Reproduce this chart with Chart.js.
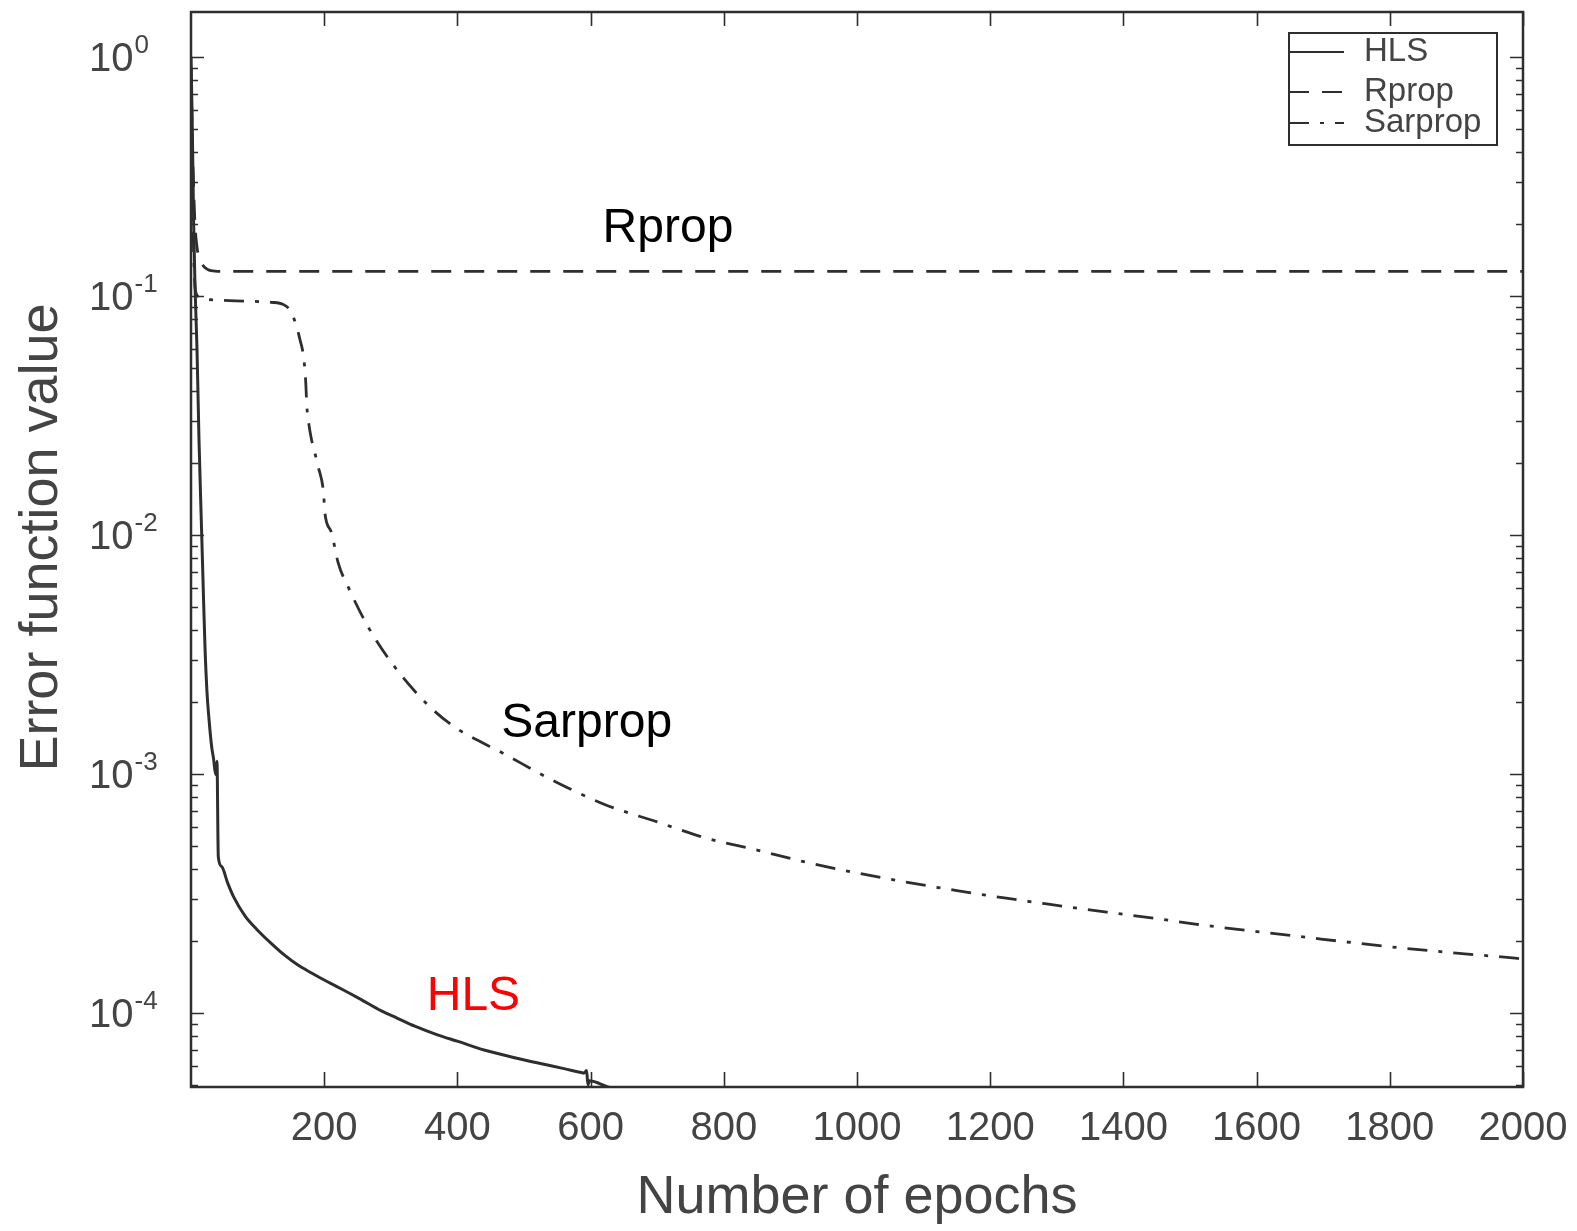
<!DOCTYPE html>
<html lang="en">
<head>
    <meta charset="UTF-8">
    <title>Error function value vs number of epochs</title>
    <script src="https://cdn.jsdelivr.net/npm/chart.js@4.4.1/dist/chart.umd.js"></script>
    <style>
        html, body { margin: 0; padding: 0; background: #fff; }
        #wrap { width: 1577px; height: 1231px; }
    </style>
</head>
<body>
    <div id="wrap"><canvas id="errChart" width="1577" height="1231"></canvas></div>

    <script>
        // --- data ---
        const hlsEpochs = [0, 2, 4, 6, 9, 12, 16, 19, 21, 24, 27, 31, 34, 36, 38, 39, 41, 46, 55, 64,
            81, 100, 120, 141, 160, 181, 205, 226, 255, 286, 310, 336, 370, 401, 440, 486, 530, 560,
            586, 590, 594, 596, 598, 626, 660];
        const hlsValues = [1.0, 0.5, 0.2, 0.11, 0.06, 0.025, 0.0102, 0.0052, 0.0034, 0.0022, 0.0017,
            0.0013, 0.00115, 0.00103, 0.00099, 0.00113, 0.00045, 0.00041, 0.00035, 0.000306,
            0.000255, 0.000222, 0.000196, 0.000174, 0.000159, 0.000147, 0.000135, 0.000126,
            0.000114, 0.000102, 9.5e-5, 8.8e-5, 8.1e-5, 7.6e-5, 7.0e-5, 6.5e-5, 6.1e-5, 5.85e-5,
            5.63e-5, 5.6e-5, 5.75e-5, 5.0e-5, 5.2e-5, 4.9e-5, 4.6e-5];

        const rpropEpochs = [0, 2, 4, 6, 9, 12, 16, 20, 25, 30, 36, 50, 100, 500, 1000, 1500, 2000];
        const rpropValues = [0.9, 0.45, 0.28, 0.2, 0.16, 0.145, 0.137, 0.132, 0.129, 0.1275, 0.1268,
            0.1265, 0.1265, 0.1265, 0.1265, 0.1265, 0.1265];

        const sarpropEpochs = [0, 2, 4, 6, 8, 12, 20, 40, 80, 120, 139, 150, 159, 164, 169, 172, 174,
            177, 181, 186, 191, 199, 201, 211, 221, 238, 266, 306, 356, 396, 471, 540, 621, 700, 772,
            850, 922, 1000, 1073, 1150, 1224, 1300, 1375, 1450, 1525, 1600, 1676, 1750, 1826, 1900,
            1992, 2000];
        const sarpropValues = [0.7, 0.3, 0.15, 0.11, 0.102, 0.099, 0.097, 0.096, 0.095, 0.094, 0.0919,
            0.086, 0.0736, 0.065, 0.0557, 0.045, 0.0344, 0.029, 0.025, 0.022, 0.0193, 0.015, 0.0124,
            0.0102, 0.00764, 0.00589, 0.00412, 0.0028, 0.00194, 0.00157, 0.00121, 0.00095, 0.000745,
            0.00063, 0.00054, 0.00048, 0.000428, 0.000385, 0.000353, 0.000325, 0.000302, 0.000282,
            0.000264, 0.000248, 0.000232, 0.000219, 0.000207, 0.000196, 0.000186, 0.000178,
            0.000169, 0.000168];

        const xTickValues = [200, 400, 600, 800, 1000, 1200, 1400, 1600, 1800, 2000];
        const yDecadeExponents = [0, -1, -2, -3, -4];
        const yMinorMultipliers = [2, 3, 4, 5, 6, 7, 8, 9];

        const FONT = '"Liberation Sans", Arial, sans-serif';
        const INK = '#2e2e2e';

        function toPoints(xs, ys) {
            return xs.map((x, i) => ({ x: x, y: ys[i] }));
        }

        // inward ticks, frame, superscript y labels and the y title (MATLAB look)
        const axesDecor = {
            id: 'axesDecor',
            afterDatasetsDraw(chart) {
                const { ctx, chartArea: a, scales: { x, y } } = chart;
                ctx.save();
                ctx.strokeStyle = INK;
                ctx.lineWidth = 1.6;
                ctx.beginPath();
                xTickValues.forEach(v => {
                    const px = Math.round(x.getPixelForValue(v)) + 0.5;
                    ctx.moveTo(px, a.bottom); ctx.lineTo(px, a.bottom - 15);
                    ctx.moveTo(px, a.top); ctx.lineTo(px, a.top + 14);
                });
                yDecadeExponents.forEach(e => {
                    const py = Math.round(y.getPixelForValue(Math.pow(10, e))) + 0.5;
                    ctx.moveTo(a.left, py); ctx.lineTo(a.left + 13, py);
                    ctx.moveTo(a.right, py); ctx.lineTo(a.right - 13, py);
                    yMinorMultipliers.forEach(m => {
                        const v = m * Math.pow(10, e - 1);
                        if (v < y.min || v > y.max) return;
                        const pm = Math.round(y.getPixelForValue(v)) + 0.5;
                        ctx.moveTo(a.left, pm); ctx.lineTo(a.left + 7, pm);
                        ctx.moveTo(a.right, pm); ctx.lineTo(a.right - 7, pm);
                    });
                });
                ctx.stroke();

                ctx.lineWidth = 2.5;
                ctx.strokeRect(a.left, a.top, a.right - a.left, a.bottom - a.top);

                // y tick labels: 10 with superscript exponent
                ctx.fillStyle = '#444';
                ctx.textBaseline = 'middle';
                ctx.textAlign = 'left';
                yDecadeExponents.forEach(e => {
                    const py = y.getPixelForValue(Math.pow(10, e));
                    const lx = a.left - 102;
                    ctx.font = '40px ' + FONT;
                    ctx.fillText('10', lx, py + 3);
                    const w = ctx.measureText('10').width;
                    ctx.font = '26px ' + FONT;
                    ctx.fillText(e === 0 ? '0' : String(e), lx + w + 1, py - 11);
                });

                // y axis title, a little above the middle as in the source figure
                ctx.translate(a.left - 149, (a.top + a.bottom) / 2 - 12);
                ctx.rotate(-Math.PI / 2);
                ctx.textAlign = 'center';
                ctx.font = '54px ' + FONT;
                ctx.fillText('Error function value', 0, 0);
                ctx.restore();
            }
        };

        // curve names written next to the curves, anchored in data coordinates
        const curveNames = [
            { text: 'Rprop', epoch: 618, value: 0.1686, color: '#000' },
            { text: 'Sarprop', epoch: 466, value: 0.00143, color: '#000' },
            { text: 'HLS', epoch: 354, value: 0.000103, color: '#ff0000' }
        ];
        const curveLabels = {
            id: 'curveLabels',
            afterDraw(chart) {
                const { ctx, scales: { x, y } } = chart;
                ctx.save();
                ctx.font = '48px ' + FONT;
                ctx.textAlign = 'left';
                ctx.textBaseline = 'alphabetic';
                curveNames.forEach(c => {
                    ctx.fillStyle = c.color;
                    ctx.fillText(c.text, x.getPixelForValue(c.epoch), y.getPixelForValue(c.value));
                });
                ctx.restore();
            }
        };

        // boxed legend in the top right corner
        const boxLegend = {
            id: 'boxLegend',
            afterDraw(chart) {
                const { ctx, chartArea: a } = chart;
                const bx = a.right - 26, by = a.top + 21, bw = 208, bh = 112;
                const rowY = [19, 59, 90];
                ctx.save();
                ctx.fillStyle = '#fff';
                ctx.fillRect(bx - bw, by, bw, bh);
                ctx.strokeStyle = INK;
                ctx.lineWidth = 2;
                ctx.strokeRect(bx - bw, by, bw, bh);
                ctx.font = '33px ' + FONT;
                ctx.textBaseline = 'middle';
                ctx.textAlign = 'left';
                chart.data.datasets.forEach((ds, i) => {
                    const ly = by + rowY[i];
                    ctx.strokeStyle = ds.borderColor;
                    ctx.lineWidth = 2;
                    ctx.setLineDash(ds.borderDash || []);
                    ctx.beginPath();
                    ctx.moveTo(bx - bw, ly);
                    ctx.lineTo(bx - bw + 55, ly);
                    ctx.stroke();
                    ctx.setLineDash([]);
                    ctx.fillStyle = '#444';
                    ctx.fillText(ds.label, bx - bw + 75, ly);
                });
                ctx.restore();
            }
        };

        const ctx = document.getElementById('errChart').getContext('2d');
        new Chart(ctx, {
            type: 'line',
            data: {
                datasets: [
                    {
                        label: 'HLS',
                        data: toPoints(hlsEpochs, hlsValues),
                        borderColor: INK,
                        borderWidth: 3,
                        borderDash: []
                    },
                    {
                        label: 'Rprop',
                        data: toPoints(rpropEpochs, rpropValues),
                        borderColor: INK,
                        borderWidth: 2.8,
                        borderDash: [20, 13]
                    },
                    {
                        label: 'Sarprop',
                        data: toPoints(sarpropEpochs, sarpropValues),
                        borderColor: INK,
                        borderWidth: 2.8,
                        borderDash: [20, 11, 4, 11]
                    }
                ]
            },
            options: {
                responsive: false,
                animation: false,
                events: [],
                elements: {
                    point: { radius: 0 },
                    line: { cubicInterpolationMode: 'monotone', fill: false }
                },
                layout: { autoPadding: false, padding: { left: 0, right: 54, top: 12, bottom: 0 } },
                plugins: {
                    legend: { display: false },
                    tooltip: { enabled: false }
                },
                scales: {
                    x: {
                        type: 'linear',
                        min: 0,
                        max: 2000,
                        border: { display: false },
                        grid: { display: false, drawTicks: false },
                        ticks: {
                            stepSize: 200,
                            padding: 18,
                            color: '#444',
                            font: { family: FONT, size: 40 },
                            maxRotation: 0,
                            callback: v => (v === 0 ? '' : v)
                        },
                        title: {
                            display: true,
                            text: 'Number of epochs',
                            color: '#444',
                            font: { family: FONT, size: 54 },
                            padding: { top: 0, bottom: 0 }
                        },
                        afterFit: s => {
                            s.height = 1231 - 1087;
                            s.paddingLeft = 0;
                            s.paddingRight = 0;
                        }
                    },
                    y: {
                        type: 'logarithmic',
                        min: 4.9e-5,
                        max: 1.54,
                        border: { display: false },
                        grid: { display: false, drawTicks: false },
                        ticks: { display: false },
                        title: { display: false },
                        afterFit: s => { s.width = 191; }
                    }
                }
            },
            plugins: [axesDecor, curveLabels, boxLegend]
        });
    </script>
</body>
</html>
